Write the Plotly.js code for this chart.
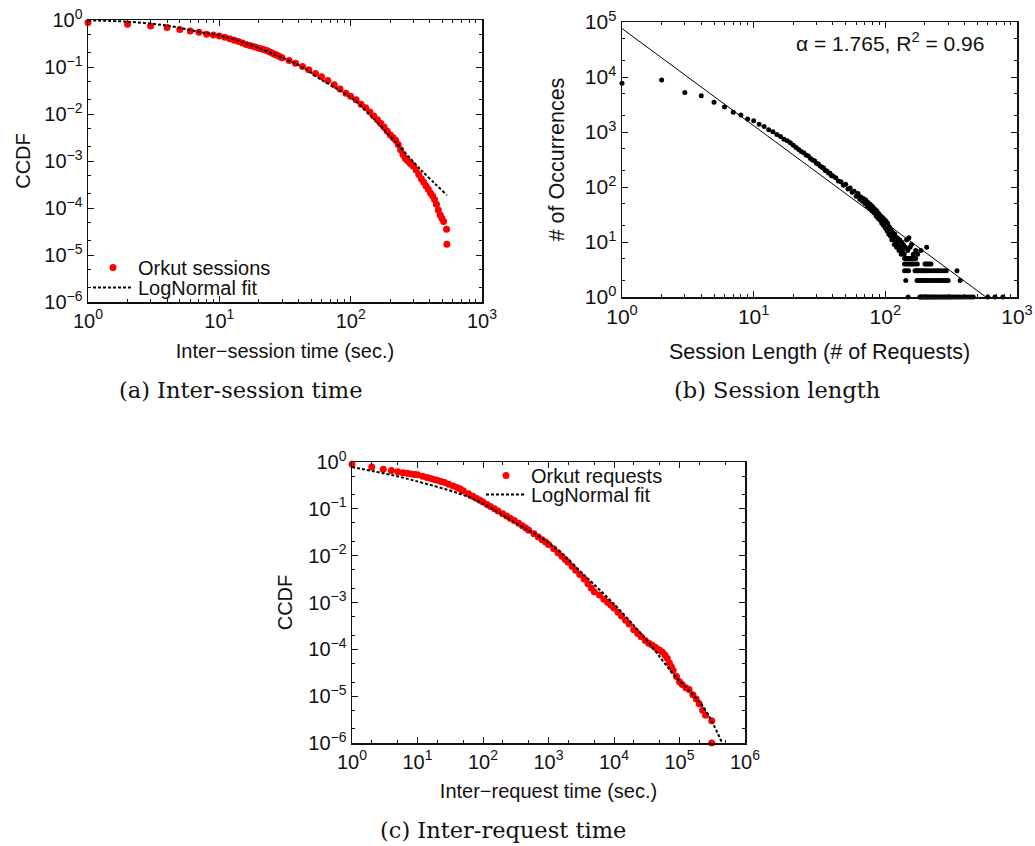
<!DOCTYPE html>
<html><head><meta charset="utf-8">
<script src="https://cdn.plot.ly/plotly-3.0.1.min.js"></script>
<style>html,body{margin:0;padding:0;background:#fff}#chart{width:1035px;height:846px}</style>
</head><body><div id="chart"></div>
<script>
// ---------- (a) Inter-session time ----------
const sessX = [1,2,3,4,5,6,7,8,9,10,11,12,13,14,15,16,17,18,19,20,21,22,23,24,25,26,27,28,29,30,34,38,43,48,54,60,67,75,83,92,100,110,120,130,140,150,160,170,180,190,200,210,220,230,240,250,260,270,280,290,300,315,330,345,360,375,390,405,420,435,450,465,480,495,510,537,540];
const sessY = [0.88,0.81,0.745,0.69,0.63,0.58,0.55,0.50,0.48,0.457,0.427,0.398,0.372,0.347,0.324,0.302,0.288,0.275,0.263,0.251,0.243,0.233,0.224,0.211,0.200,0.190,0.182,0.174,0.166,0.158,0.138,0.120,0.102,0.0871,0.0724,0.0617,0.0513,0.0417,0.0339,0.0275,0.0240,0.0200,0.0162,0.0135,0.0110,0.00912,0.00759,0.00631,0.00525,0.00427,0.00363,0.00316,0.00275,0.00224,0.00174,0.00138,0.00115,0.00102,0.000933,0.000851,0.000776,0.000646,0.000513,0.000417,0.000355,0.000295,0.000251,0.000209,0.000182,0.000151,0.000120,0.0000912,0.0000708,0.0000603,0.0000513,0.0000355,0.0000170];
const fitAX = [1,2,4,7,10,16,27,41.5,59,106,190,342,540];
const fitAY = [0.98,0.92,0.76,0.56,0.47,0.316,0.18,0.105,0.055,0.020,0.0039,0.00065,0.00019];
const tickValsAx = [1,10,100,1000];
const tickTextAx = ['10<sup>0</sup>','10<sup>1</sup>','10<sup>2</sup>','10<sup>3</sup>'];
const tickValsCcdf = [1e-6,1e-5,1e-4,1e-3,1e-2,1e-1,1];
const tickTextCcdf = ['10<sup>−6</sup>','10<sup>−5</sup>','10<sup>−4</sup>','10<sup>−3</sup>','10<sup>−2</sup>','10<sup>−1</sup>','10<sup>0</sup>'];

// ---------- (b) Session length ----------
const lenX = [1,2,3,4,5,6,7,8,9,10,11,12,13,14,15,16,17,18,19,20,21,22,23,24,25,26,27,28,29,30,31,32,33,34,35,36,37,38,39,40,
  42,44,46,48,50,52,54,56,58,60,62,64,65,67,68,70,71,73,74,76,77,79,80,82,83,85,86,88,89,91,92,94,95,97,98,100,101,103,104,106,107,109,110,112,113,115,117,118,120,122,123,125,127,128,130,132,133,135,137,139,142,145,148,151,154,158,163,170,176,186,206,
  140,143,146,150,153,156,160,165,170,
  140,144,148,152,157,162,168,175,200,205,210,215,222,
  140,145,150,168,172,176,180,185,190,196,200,208,215,225,235,245,255,265,280,290,350,
  143,174,178,182,188,193,198,205,212,220,228,236,245,252,260,270,280,290,300,370,
  149,183,186,190,195,200,205,210,215,220,226,232,238,245,252,260,268,276,285,294,303,312,322,333,345,358,372,388,405,425,445,465,600,680,780];
const lenY = [7700,8800,5200,4570,3470,2850,2290,2040,1720,1600,1380,1260,1100,1010,900,830,740,690,640,575,520,480,440,420,380,365,330,310,300,270,262,240,228,222,200,196,180,178,160,158,
  148,128,125,108,112,92,96,80,84,68,76,60,66,55,62,50,58,45,52,41,48,37,44,34,40,30,37,27,33,25,30,22,28,20,26,18,24,16,22,14,19,13,17,11,15,12,9,14,10,8,12,9,7,11,8,6,10,7,9,6,8,11,7,12,8,9,6,7,6,7,8,
  5,5,5,5,5,5,5,5,5,
  4,4,4,4,4,4,4,4,4,4,4,4,4,
  3,3,3,3,3,3,3,3,3,3,3,3,3,3,3,3,3,3,3,3,3,
  2,2,2,2,2,2,2,2,2,2,2,2,2,2,2,2,2,2,2,2,
  1,1,1,1,1,1,1,1,1,1,1,1,1,1,1,1,1,1,1,1,1,1,1,1,1,1,1,1,1,1,1,1,1,1,1];
const powFitX = [1,580];
const powFitY = [76000,1];
const tickValsBy = [1,10,100,1000,10000,100000];
const tickTextBy = ['10<sup>0</sup>','10<sup>1</sup>','10<sup>2</sup>','10<sup>3</sup>','10<sup>4</sup>','10<sup>5</sup>'];

// ---------- (c) Inter-request time ----------
const reqX = [1,2,3,4,5,6,7,8,9,10,12,14,16,18,20,23,26,30,35,40,45,50,60,70,80,90,100,115,130,150,170,200,230,260,300,350,400,450,500,600,700,800,900,1000,1200,1400,1600,1800,2000,2300,2600,3000,3500,4000,4500,5000,6000,7000,8000,9000,10000,11500,13000,15000,17000,20000,23000,26000,30000,34000,38000,42000,46000,50000,55000,60000,65000,70000,75000,80000,90000,100000,110000,125000,140000,160000,180000,200000,225000,250000,310000,310000];
const reqY = [0.893,0.782,0.698,0.655,0.622,0.593,0.575,0.556,0.543,0.531,0.495,0.468,0.442,0.422,0.406,0.384,0.363,0.335,0.307,0.284,0.265,0.244,0.211,0.186,0.167,0.152,0.140,0.124,0.112,0.100,0.0902,0.0787,0.0700,0.0631,0.0562,0.0490,0.0437,0.0389,0.0351,0.0295,0.0251,0.0219,0.0195,0.0174,0.0141,0.0115,0.00977,0.00832,0.00724,0.00589,0.00490,0.00398,0.00316,0.00251,0.00204,0.00170,0.00145,0.00118,0.00100,0.00087,0.00076,0.000617,0.000513,0.000417,0.000347,0.000263,0.000219,0.000186,0.000155,0.000135,0.000123,0.000112,0.000102,0.0000955,0.0000871,0.0000759,0.0000646,0.0000513,0.0000427,0.0000355,0.0000263,0.0000204,0.0000178,0.0000151,0.0000138,0.0000107,0.0000087,0.0000069,0.0000050,0.0000039,0.0000030,0.0000010];
const fitCX = [1,4.2,9.6,44,100,300,1050,3000,9800,31600,80000,230000,440000];
const fitCY = [0.78,0.52,0.39,0.21,0.129,0.052,0.018,0.0047,0.00095,0.000155,0.000030,0.0000059,0.00000105];
const tickValsCx = [1,10,100,1000,10000,100000,1000000];
const tickTextCx = ['10<sup>0</sup>','10<sup>1</sup>','10<sup>2</sup>','10<sup>3</sup>','10<sup>4</sup>','10<sup>5</sup>','10<sup>6</sup>'];

// ---------- styling ----------
const FONT = 'Liberation Sans, Arial, sans-serif';
const SERIF = 'DejaVu Serif, serif';
const INK = '#111';
const W = 1035, H = 846;
const px = v => v / W;
const py = v => 1 - v / H;

function axis(o) {
  return Object.assign({
    type: 'log', showline: true, linecolor: INK, linewidth: 1.5, mirror: 'allticks',
    ticks: 'inside', ticklen: 6, tickwidth: 1, tickcolor: INK, showgrid: false, zeroline: false,
    tickmode: 'array', tickfont: {family: FONT, size: 20, color: INK}
  }, o);
}
function minor(d) {
  return {ticks: 'inside', ticklen: 3, tickwidth: 1, tickcolor: INK, dtick: d, showgrid: false};
}
function ttl(text, standoff, size) {
  return {text: text, font: {family: FONT, size: size || 20, color: INK}, standoff: standoff};
}
function leg(xLeft, yCenter) {
  return {x: px(xLeft), y: py(yCenter - 19), xanchor: 'left', yanchor: 'top', bgcolor: 'rgba(0,0,0,0)',
    font: {family: FONT, size: 20, color: INK}, itemwidth: 40, tracegroupgap: 0};
}

const traces = [
  {type: 'scatter', mode: 'markers', x: sessX, y: sessY, xaxis: 'x', yaxis: 'y', name: 'Orkut sessions',
   marker: {color: '#ff0000', size: 7}, legend: 'legend', cliponaxis: false},
  {type: 'scatter', mode: 'lines', x: fitAX, y: fitAY, xaxis: 'x', yaxis: 'y', name: 'LogNormal fit',
   line: {color: '#000', width: 2, dash: '3px,2px', shape: 'spline'}, legend: 'legend2'},
  {type: 'scatter', mode: 'markers', x: lenX, y: lenY, xaxis: 'x2', yaxis: 'y2', showlegend: false,
   marker: {color: '#000', size: 5}, cliponaxis: false},
  {type: 'scatter', mode: 'lines', x: powFitX, y: powFitY, xaxis: 'x2', yaxis: 'y2', showlegend: false,
   line: {color: '#000', width: 1}},
  {type: 'scatter', mode: 'markers', x: reqX, y: reqY, xaxis: 'x3', yaxis: 'y3', name: 'Orkut requests',
   marker: {color: '#ff0000', size: 7}, legend: 'legend3', cliponaxis: false},
  {type: 'scatter', mode: 'lines', x: fitCX, y: fitCY, xaxis: 'x3', yaxis: 'y3', name: 'LogNormal fit',
   line: {color: '#000', width: 2, dash: '3px,2px', shape: 'spline'}, legend: 'legend4'}
];

const layout = {
  width: W, height: H, margin: {l: 0, r: 0, t: 0, b: 0},
  paper_bgcolor: '#fff', plot_bgcolor: '#fff',
  font: {family: FONT, size: 20, color: INK},
  xaxis: axis({domain: [px(88), px(482)], anchor: 'y', range: [0, 3], tickvals: tickValsAx, ticktext: tickTextAx,
    minor: minor('D1'), title: ttl('Inter−session time (sec.)', 13)}),
  yaxis: axis({domain: [py(302), py(20)], anchor: 'x', range: [-6, 0], tickvals: tickValsCcdf, ticktext: tickTextCcdf,
    minor: minor('D2'), title: ttl('CCDF', 8)}),
  xaxis2: axis({domain: [px(622), px(1017)], anchor: 'y2', range: [0, 3], tickvals: tickValsAx, ticktext: tickTextAx,
    tickfont: {family: FONT, size: 21, color: INK},
    minor: minor('D1'), title: ttl('Session Length (# of Requests)', 17, 21.5)}),
  yaxis2: axis({domain: [py(297), py(22)], anchor: 'x2', range: [0, 5], tickvals: tickValsBy, ticktext: tickTextBy,
    tickfont: {family: FONT, size: 21, color: INK},
    minor: minor('D2'), title: ttl('# of Occurrences', 14, 21.5)}),
  xaxis3: axis({domain: [px(352), px(745)], anchor: 'y3', range: [0, 6], tickvals: tickValsCx, ticktext: tickTextCx,
    minor: minor('D2'), title: ttl('Inter−request time (sec.)', 12)}),
  yaxis3: axis({domain: [py(743), py(462)], anchor: 'x3', range: [-6, 0], tickvals: tickValsCcdf, ticktext: tickTextCcdf,
    minor: minor('D2'), title: ttl('CCDF', 10)}),
  legend: leg(88, 267),
  legend2: leg(88, 287),
  legend3: leg(481, 475),
  legend4: leg(481, 494),
  annotations: [
    {xref: 'paper', yref: 'paper', x: px(890), y: py(42), text: 'α = 1.765, R<sup>2</sup> = 0.96', showarrow: false,
     font: {family: FONT, size: 21, color: INK}, xanchor: 'center', yanchor: 'middle'},
    {xref: 'paper', yref: 'paper', x: px(240), y: py(390), text: '(a) Inter-session time', showarrow: false,
     font: {family: SERIF, size: 22.5, color: INK}, xanchor: 'center', yanchor: 'middle'},
    {xref: 'paper', yref: 'paper', x: px(777), y: py(390), text: '(b) Session length', showarrow: false,
     font: {family: SERIF, size: 22.5, color: INK}, xanchor: 'center', yanchor: 'middle'},
    {xref: 'paper', yref: 'paper', x: px(503), y: py(830), text: '(c) Inter-request time', showarrow: false,
     font: {family: SERIF, size: 22.5, color: INK}, xanchor: 'center', yanchor: 'middle'}
  ]
};

Plotly.newPlot('chart', traces, layout, {displayModeBar: false, staticPlot: true});
</script></body></html>
